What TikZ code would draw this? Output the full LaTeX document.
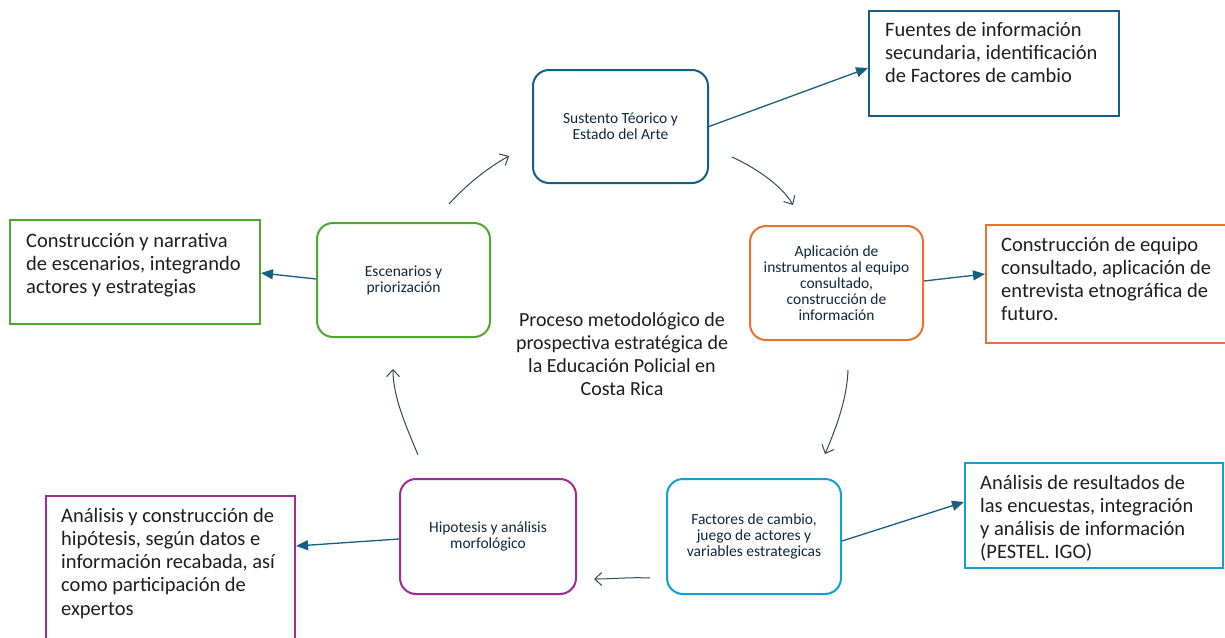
\documentclass[tikz,border=0pt]{standalone}
\usepackage{fontspec}
\setmainfont{Carlito}
\usetikzlibrary{arrows.meta}
\definecolor{cteal}{HTML}{156082}
\definecolor{corange}{HTML}{E97132}
\definecolor{clblue}{HTML}{0F9ED5}
\definecolor{cpurple}{HTML}{A02B93}
\definecolor{cgreen}{HTML}{4EA72E}
\definecolor{cnavy}{HTML}{0E2841}
\definecolor{ctext}{HTML}{1E1E1E}
\tikzset{
  rbox/.style={draw=#1, line width=2pt, rounded corners=16pt, align=center,
    text=cnavy, font=\fontsize{15.5}{16}\selectfont, inner sep=0pt},
  obox/.style={draw=#1, line width=2pt, anchor=north west, inner sep=0pt},
  otext/.style={anchor=base west, inner sep=0pt, text=ctext, font=\fontsize{20.5}{23.3}\selectfont},
  link/.style={draw=cteal, line width=1.3pt, -{Triangle[length=12pt,width=10pt]}},
  flow/.style={draw=cnavy!85, line width=1pt, -{Straight Barb[length=7pt,width=13pt]}}
}
\begin{document}
\begin{tikzpicture}[x=1pt,y=-1pt]
\useasboundingbox[fill=white] (0,0) rectangle (1225,637);

% rounded process boxes
\node[rbox=cteal, minimum width=175pt, minimum height=113pt] (sust) at (620.5,126.5) {Sustento Téorico y\\Estado del Arte};
\node[rbox=corange, minimum width=173pt, minimum height=114pt] (apl) at (836.5,283) {Aplicación de\\instrumentos al equipo\\consultado,\\construcción de\\información};
\node[rbox=clblue, minimum width=174pt, minimum height=115pt] (fac) at (754,536.5) {Factores de cambio,\\juego de actores y\\variables estrategicas};
\node[rbox=cpurple, minimum width=176pt, minimum height=115pt] (hip) at (488,536.5) {Hipotesis y análisis\\morfológico};
\node[rbox=cgreen, minimum width=173pt, minimum height=114pt] (esc) at (403.5,280) {Escenarios y\\priorización};

% outer description boxes
\node[obox=cteal, minimum width=250pt, minimum height=105pt] (fuentes) at (868,10) {};
\node[obox=corange, minimum width=250pt, minimum height=118pt] (equipo) at (985,224) {};
\node[obox=clblue, minimum width=258pt, minimum height=105pt] (result) at (964,462) {};
\node[obox=cpurple, minimum width=249pt, minimum height=160pt] (hipbox) at (45,495) {};
\node[obox=cgreen, minimum width=250pt, minimum height=104pt] (narr) at (9,219) {};

% texts of outer boxes
\node[otext] (tfuentes) at (885,36) {\parbox[t]{230pt}{\raggedright Fuentes de información\\secundaria, identificación\\de Factores de cambio}};
\node[otext] (tequipo) at (1001,251) {\parbox[t]{224pt}{\raggedright Construcción de equipo\\consultado, aplicación de\\entrevista etnográfica de\\futuro.}};
\node[otext] (tresult) at (980,489) {\parbox[t]{240pt}{\raggedright Análisis de resultados de\\las encuestas, integración\\y análisis de información\\(PESTEL. IGO)}};
\node[otext] (thip) at (61,522) {\parbox[t]{230pt}{\raggedright Análisis y construcción de\\hipótesis, según datos e\\información recabada, así\\como participación de\\expertos}};
\node[otext] (tnarr) at (26,247) {\parbox[t]{230pt}{\raggedright Construcción y narrativa\\de escenarios, integrando\\actores y estrategias}};

% centre title
\node[anchor=base, inner sep=0pt, text=ctext, font=\fontsize{20}{23}\selectfont] (title) at (622,326)
  {\parbox[t]{240pt}{\centering Proceso metodológico de\\prospectiva estratégica de\\la Educación Policial en\\Costa Rica}};

% links to descriptions
\draw[link] (sust.east) -- (fuentes.west |- 0,68);
\draw[link] (apl.east |- 0,281) -- (equipo.west |- 0,274);
\draw[link] (fac.east |- 0,541) -- (result.west |- 0,502);
\draw[link] (hip.west |- 0,539) -- (hipbox.east |- 0,546);
\draw[link] (esc.west |- 0,279) -- (narr.east |- 0,273);

% cycle arrows
\coordinate (c1a) at (449,204); \coordinate (c1b) at (509,156);
\coordinate (c2a) at (732,157); \coordinate (c2b) at (793,205);
\coordinate (c3a) at (848,370); \coordinate (c3b) at (825,454);
\coordinate (c4a) at (650,578); \coordinate (c4b) at (594,579);
\coordinate (c5a) at (418,455); \coordinate (c5b) at (393,369);
\draw[flow] (c1a) .. controls (467,184) and (489,167) .. (c1b);
\draw[flow] (c2a) .. controls (752,166) and (781,184) .. (c2b);
\draw[flow] (c3a) .. controls (847,398) and (837,426) .. (c3b);
\draw[flow] (c4a) .. controls (630,577) and (612,579) .. (c4b);
\draw[flow] (c5a) .. controls (407,428) and (393,398) .. (c5b);
\end{tikzpicture}
\end{document}
